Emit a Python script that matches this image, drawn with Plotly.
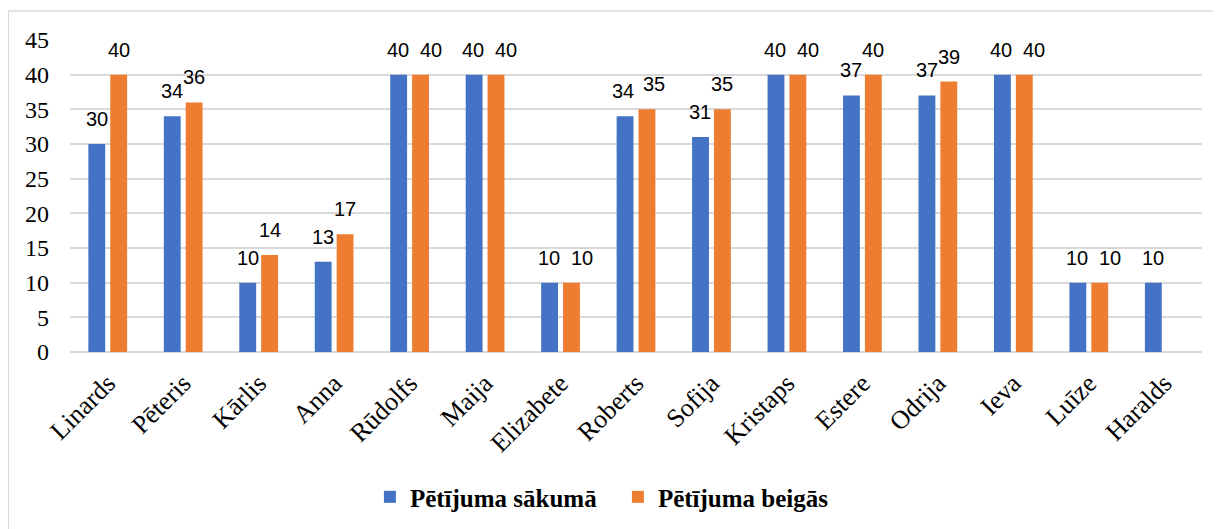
import plotly.graph_objects as go

categories = ["Linards", "Pēteris", "Kārlis", "Anna", "Rūdolfs", "Maija", "Elizabete",
              "Roberts", "Sofija", "Kristaps", "Estere", "Odrija", "Ieva", "Luīze", "Haralds"]
start_values = [30, 34, 10, 13, 40, 40, 10, 34, 31, 40, 37, 37, 40, 10, 10]
end_values = [40, 36, 14, 17, 40, 40, 10, 35, 35, 40, 40, 39, 40, 10, None]
series_names = ["Pētījuma sākumā", "Pētījuma beigās"]
y_ticks = [0, 5, 10, 15, 20, 25, 30, 35, 40, 45]

BLUE = "#4472C4"
ORANGE = "#ED7D31"
GRID = "#D9D9D9"
SERIF = "Liberation Serif, Times New Roman, serif"

fig = go.Figure()
fig.add_trace(go.Bar(x=categories, y=start_values, name="<b>" + series_names[0] + "</b>",
                     marker=dict(color=BLUE, line=dict(width=0))))
fig.add_trace(go.Bar(x=categories, y=end_values, name="<b>" + series_names[1] + "</b>",
                     marker=dict(color=ORANGE, line=dict(width=0))))

# data labels; when both labels of a pair sit at about the same height they are nudged apart
label_font = dict(family="Liberation Sans", size=20, color="#000000")
for c, a, b in zip(categories, start_values, end_values):
    diff = None if b is None else abs(a - b)
    if diff == 0:
        sa, sb = -12, 21
    elif diff == 1:
        sa, sb = -13, 18
    else:
        sa, sb = -11, 11
    fig.add_annotation(x=c, y=a, text=str(a), showarrow=False,
                       xshift=sa, yshift=25, yanchor="middle", font=label_font)
    if b is not None:
        fig.add_annotation(x=c, y=b, text=str(b), showarrow=False,
                           xshift=sb, yshift=25, yanchor="middle", font=label_font)

# outer chart border (only top and left visible in the reference)
fig.add_shape(type="rect", xref="paper", yref="paper",
              x0=-0.0545, x1=1.08, y0=-0.7, y1=1.093,
              line=dict(color=GRID, width=1.5), fillcolor="rgba(0,0,0,0)")

fig.update_layout(
    width=1213, height=521,
    margin=dict(l=62, r=19, t=32, b=177, autoexpand=False),
    paper_bgcolor="white", plot_bgcolor="white",
    barmode="group", bargap=0.42, bargroupgap=0.23,
    showlegend=True,
    legend=dict(orientation="h", x=0.484, xanchor="center", y=-0.465, yanchor="middle",
                font=dict(family=SERIF, size=25, color="#000000"),
                entrywidth=203, traceorder="normal"),
    xaxis=dict(type="category", tickangle=-45, showgrid=False, showline=False,
               zeroline=False, ticks="", automargin=False,
               tickfont=dict(family=SERIF, size=26, color="#000000"),
               ticklabelstandoff=10),
    yaxis=dict(range=[0, 45], tickvals=y_ticks, showgrid=True, gridcolor=GRID,
               gridwidth=1.5, zeroline=True, zerolinecolor=GRID, zerolinewidth=1.5,
               showline=False, ticks="", automargin=False,
               tickfont=dict(family=SERIF, size=24, color="#000000"),
               ticklabelstandoff=20),
)

fig.write_html("out.html")
